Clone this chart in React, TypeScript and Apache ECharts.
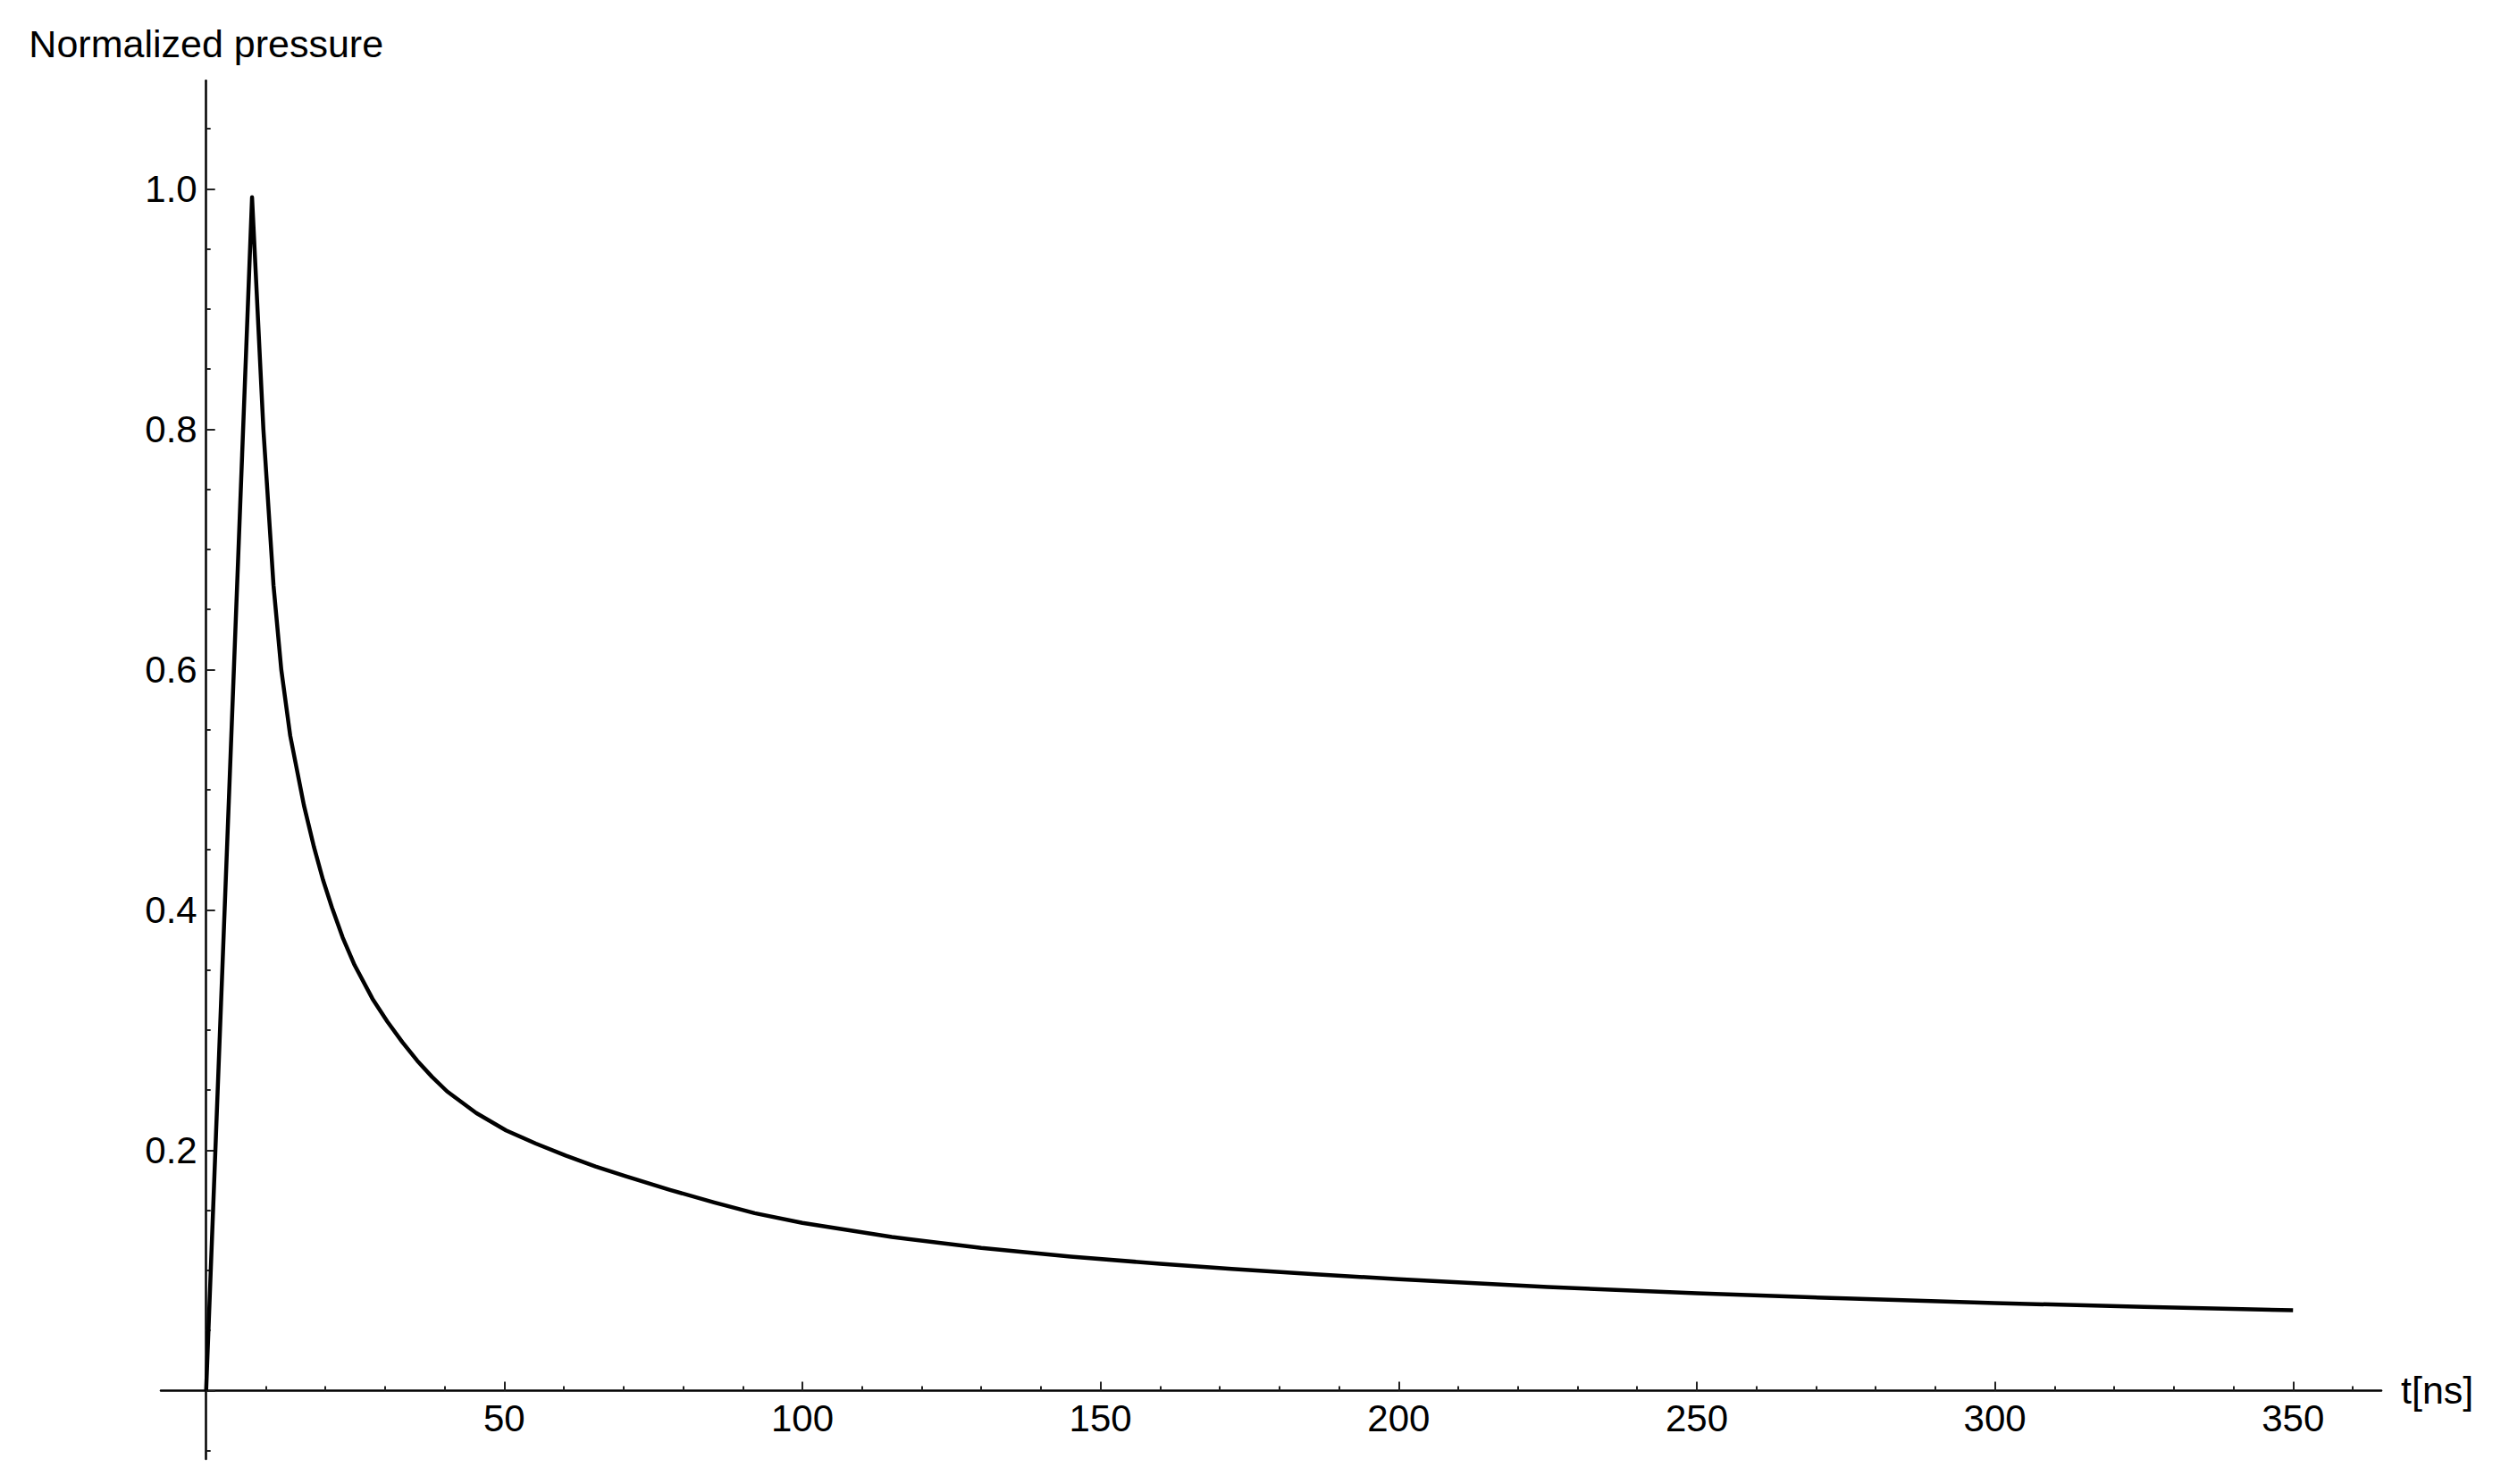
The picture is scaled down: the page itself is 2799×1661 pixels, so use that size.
import React, { useEffect, useRef } from "react";
import * as echarts from "echarts";

// ---- data ----
const timeNs = [
  0, 7.7, 9.6, 11.3, 12.6, 14.1, 16.4, 18.1, 19.6, 21.1,
  22.9, 24.9, 27.9, 30.4, 32.9, 35.4, 37.9, 40.4, 45.3, 50.3,
  55.3, 60.3, 65.3, 70.3, 77.8, 85.2, 92, 100, 115, 130,
  145, 160, 172, 186, 200, 225, 250, 275, 300, 325,
  350,
];
const pressure = [
  0, 0.993, 0.8, 0.67, 0.6, 0.545, 0.487, 0.452, 0.425, 0.402,
  0.377, 0.354, 0.326, 0.307, 0.29, 0.2745, 0.261, 0.249, 0.231, 0.2165,
  0.2055, 0.1955, 0.1865, 0.1785, 0.167, 0.1565, 0.1476, 0.1395, 0.1278, 0.1187,
  0.1115, 0.1055, 0.1012, 0.0968, 0.0927, 0.0862, 0.081, 0.0766, 0.0728, 0.0696,
  0.0668,
];

// axis ranges
const axisLineX = [-7.6, 364.8];
const axisLineY = [-0.057, 1.09];
const majorX = { min: 0, max: 350, step: 50 };
const majorY = { min: 0, max: 1.0, step: 0.2 };
const minorX = { min: 0, max: 360, step: 10 };
const minorY = { min: -0.05, max: 1.05, step: 0.05 };

const xName = "t[ns]";
const yName = "Normalized pressure";

// ---- layout ----
const W = 2799;
const H = 1661;
const X0 = 230.7; // pixel of t = 0
const SX = 6.673; // px per ns
const Y0 = 1556.4; // pixel of p = 0
const SY = 1345; // px per unit

const FONT = "'Liberation Sans', Arial, Helvetica, sans-serif";
const FS = 42;

function gridBox(xMin: number, xMax: number, yMin: number, yMax: number) {
  return {
    left: X0 + xMin * SX,
    right: W - (X0 + xMax * SX),
    top: Y0 - yMax * SY,
    bottom: H - (Y0 - yMin * SY),
    containLabel: false,
    outerBoundsMode: "none",
  };
}

const hiddenAxis = (gridIndex: number, min: number, max: number) => ({
  type: "value",
  gridIndex,
  min,
  max,
  show: true,
  axisLine: { show: false },
  axisTick: { show: false },
  axisLabel: { show: false },
  splitLine: { show: false },
});

const tickStyle = { color: "#222", width: 2 };
const labelStyle = { color: "#000", fontSize: FS, fontFamily: FONT };

const option: any = {
  animation: false,
  backgroundColor: "#ffffff",
  grid: [
    gridBox(axisLineX[0], axisLineX[1], axisLineY[0], axisLineY[1]),
    gridBox(majorX.min, majorX.max, majorY.min, majorY.max),
    gridBox(minorX.min, minorX.max, 0, 1),
    gridBox(0, 350, minorY.min, minorY.max),
  ],
  xAxis: [
    {
      type: "value",
      gridIndex: 0,
      min: axisLineX[0],
      max: axisLineX[1],
      name: xName,
      nameLocation: "end",
      nameGap: 22,
      nameTextStyle: { ...labelStyle, fontSize: 43, align: "left", verticalAlign: "middle" },
      axisLine: { show: true, onZero: true, lineStyle: { color: "#000", width: 2.5 } },
      axisTick: { show: false },
      axisLabel: { show: false },
      splitLine: { show: false },
    },
    {
      type: "value",
      gridIndex: 1,
      min: majorX.min,
      max: majorX.max,
      interval: majorX.step,
      axisLine: { show: false },
      axisTick: { show: true, inside: true, length: 10, lineStyle: tickStyle },
      axisLabel: {
        show: true,
        margin: 10,
        ...labelStyle,
        formatter: (v: number) => (v === 0 ? "" : String(v)),
      },
      splitLine: { show: false },
    },
    {
      type: "value",
      gridIndex: 2,
      min: minorX.min,
      max: minorX.max,
      interval: minorX.step,
      axisLine: { show: false },
      axisTick: { show: true, inside: true, length: 5, lineStyle: tickStyle },
      axisLabel: { show: false },
      splitLine: { show: false },
    },
    hiddenAxis(3, 0, 350),
  ],
  yAxis: [
    {
      type: "value",
      gridIndex: 0,
      min: axisLineY[0],
      max: axisLineY[1],
      name: yName,
      nameLocation: "end",
      nameGap: 41,
      nameTextStyle: { ...labelStyle, fontSize: 43, align: "center", verticalAlign: "middle" },
      axisLine: { show: true, onZero: true, lineStyle: { color: "#000", width: 2.5 } },
      axisTick: { show: false },
      axisLabel: { show: false },
      splitLine: { show: false },
    },
    {
      type: "value",
      gridIndex: 1,
      min: majorY.min,
      max: majorY.max,
      interval: majorY.step,
      axisLine: { show: false },
      axisTick: { show: true, inside: true, length: 10, lineStyle: tickStyle },
      axisLabel: {
        show: true,
        margin: 10,
        ...labelStyle,
        formatter: (v: number) => (v === 0 ? "" : v.toFixed(1)),
      },
      splitLine: { show: false },
    },
    hiddenAxis(2, 0, 1),
    {
      type: "value",
      gridIndex: 3,
      min: minorY.min,
      max: minorY.max,
      interval: minorY.step,
      axisLine: { show: false },
      axisTick: { show: true, inside: true, length: 5, lineStyle: tickStyle },
      axisLabel: { show: false },
      splitLine: { show: false },
    },
  ],
  series: [
    {
      type: "line",
      xAxisIndex: 0,
      yAxisIndex: 0,
      data: timeNs.map((t, i) => [t, pressure[i]]),
      showSymbol: false,
      symbol: "none",
      smooth: false,
      lineStyle: { color: "#000", width: 4.5, join: "round", cap: "butt" },
      silent: true,
    },
  ],
};

export default function App() {
  const ref = useRef<HTMLDivElement>(null);
  useEffect(() => {
    if (!ref.current) return;
    const chart = echarts.init(ref.current, null, { renderer: "svg" });
    chart.setOption(option);
    return () => {
      chart.dispose();
    };
  }, []);
  return (
    <div
      ref={ref}
      style={{ position: "fixed", left: 0, top: 0, width: W, height: H, background: "#fff" }}
    />
  );
}
